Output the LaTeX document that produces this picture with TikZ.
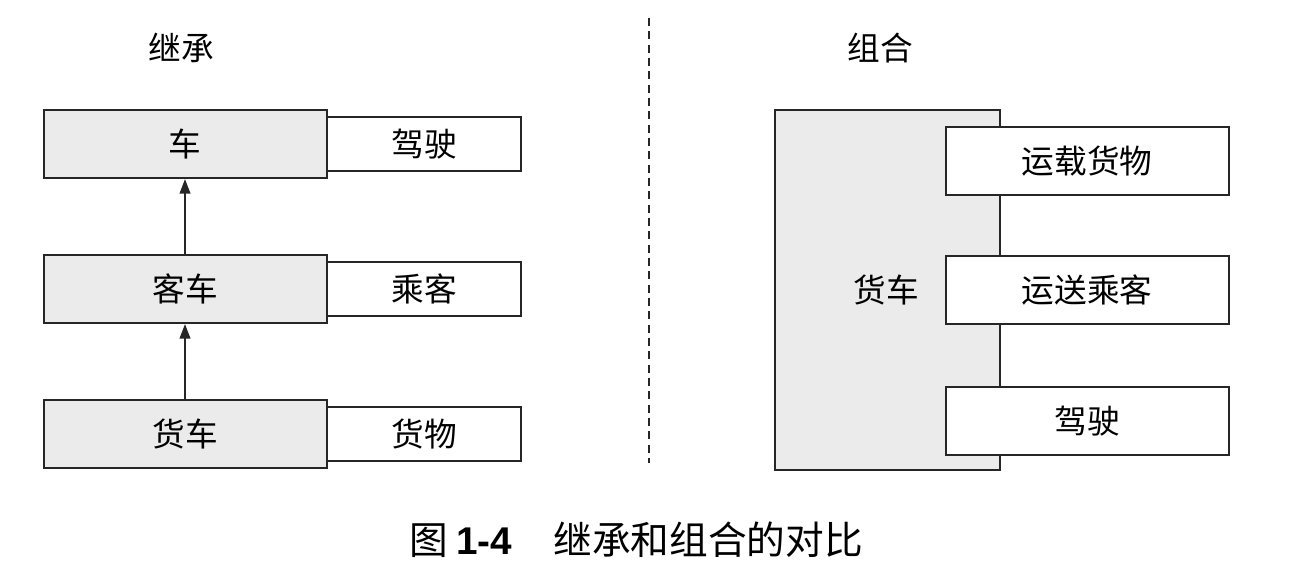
\documentclass[tikz,border=0pt]{standalone}
\usepackage{fontspec}
\setmainfont{Liberation Sans}
\newfontfamily\cjk{Noto Sans CJK SC}
\usetikzlibrary{arrows.meta}
\definecolor{boxgray}{HTML}{EBEBEB}
\definecolor{edge}{HTML}{262626}
\begin{document}
\begin{tikzpicture}[x=0.75pt,y=-0.75pt,
  graybox/.style={draw=edge,line width=1.5pt,fill=boxgray},
  whitebox/.style={draw=edge,line width=1.5pt,fill=white},
  lbl/.style={font=\cjk\fontsize{24.5}{28}\selectfont},
  inherit/.style={draw=edge,line width=1.4pt,-{Triangle[length=11pt,width=8pt]}}]
\useasboundingbox (0,0) rectangle (1290,584);
% inheritance side
\node[lbl] (tl) at (181,48) {继承};
\draw[graybox] (44,110) rectangle (327,178);
\node[lbl] (car) at (185,144) {车};
\draw[whitebox] (327,117) rectangle (521,171);
\node[lbl] (drive) at (424,144) {驾驶};
\draw[graybox] (44,255) rectangle (327,323);
\node[lbl] (bus) at (185,289) {客车};
\draw[whitebox] (327,262) rectangle (521,316);
\node[lbl] (pass) at (424,289) {乘客};
\draw[graybox] (44,400) rectangle (327,468);
\node[lbl] (truck) at (185,434) {货车};
\draw[whitebox] (327,407) rectangle (521,461);
\node[lbl] (goods) at (424,434) {货物};
\coordinate (a1s) at (185,255);
\coordinate (a1e) at (185,179);
\coordinate (a2s) at (185,400);
\coordinate (a2e) at (185,324);
\draw[inherit] (a1s) -- (a1e);
\draw[inherit] (a2s) -- (a2e);
% divider
\coordinate (d1) at (649,18);
\coordinate (d2) at (649,463);
\draw[edge,line width=1.2pt,dash pattern=on 6pt off 4pt] (d1) -- (d2);
% composition side
\node[lbl] (tr) at (880,48) {组合};
\draw[graybox] (775,110) rectangle (1000,470);
\node[lbl] (ctruck) at (886,290) {货车};
\draw[whitebox] (946,127) rectangle (1229,195);
\node[lbl] (cgoods) at (1087,161) {运载货物};
\draw[whitebox] (946,256) rectangle (1229,324);
\node[lbl] (cpass) at (1087,290) {运送乘客};
\draw[whitebox] (946,387) rectangle (1229,455);
\node[lbl] (cdrive) at (1087,421) {驾驶};
% caption
\node[anchor=west,font=\fontsize{29}{33}\selectfont] (cap) at (405,540)
  {{\cjk 图}\hspace{6pt}\textbf{1-4}\hspace{31pt}{\cjk 继承和组合的对比}};
\end{tikzpicture}
\end{document}
